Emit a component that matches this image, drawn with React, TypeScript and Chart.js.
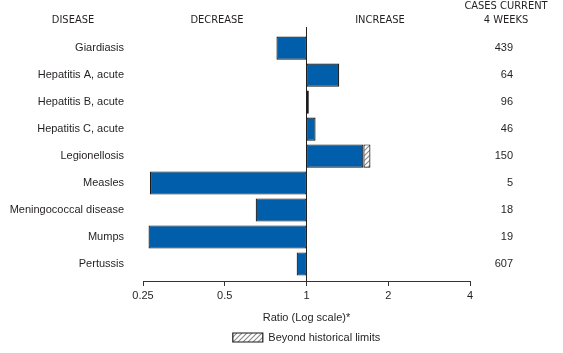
import React, { useEffect, useRef } from "react";
import { Chart, registerables } from "chart.js";

Chart.register(...registerables);

const diseases = [
  "Giardiasis",
  "Hepatitis A, acute",
  "Hepatitis B, acute",
  "Hepatitis C, acute",
  "Legionellosis",
  "Measles",
  "Meningococcal disease",
  "Mumps",
  "Pertussis",
];
const ratios = [0.775, 1.32, 1.02, 1.08, 1.62, 0.265, 0.65, 0.262, 0.92];
const beyondLimits: (number | null)[] = [null, null, null, null, 1.72, null, null, null, null];
const cases = [439, 64, 96, 46, 150, 5, 18, 19, 607];
const xTicks = [0.25, 0.5, 1, 2, 4];

const FONT = "'Liberation Sans', Arial, sans-serif";
const NARROW = "'Liberation Sans Narrow', 'DejaVu Sans Condensed', sans-serif";
const TEXT = "#231f20";
const BLUE = "#005eaa";
const Y_MIN = -0.78;
const Y_MAX = 8.63;

function makeHatch(): CanvasPattern | string {
  const c = document.createElement("canvas");
  c.width = 5;
  c.height = 5;
  const g = c.getContext("2d");
  if (!g) return "#ccc";
  g.fillStyle = "#ffffff";
  g.fillRect(0, 0, 5, 5);
  g.strokeStyle = "#8a8a8a";
  g.lineWidth = 1.1;
  g.beginPath();
  g.moveTo(0, 5);
  g.lineTo(5, 0);
  g.moveTo(-1, 1);
  g.lineTo(1, -1);
  g.moveTo(4, 6);
  g.lineTo(6, 4);
  g.stroke();
  const p = g.createPattern(c, "repeat");
  return p || "#ccc";
}

const headerPlugin = {
  id: "headers",
  afterDraw(chart: any) {
    const ctx = chart.ctx;
    const yScale = chart.scales.y;
    ctx.save();
    ctx.fillStyle = TEXT;
    ctx.font = `11px ${NARROW}`;
    ctx.textAlign = "center";
    ctx.textBaseline = "middle";
    ctx.fillText("DISEASE", 73, 20);
    ctx.fillText("DECREASE", 217, 20);
    ctx.fillText("INCREASE", 380, 20);
    ctx.fillText("CASES CURRENT", 506, 6);
    ctx.fillText("4 WEEKS", 506, 20);
    ctx.font = `11px ${FONT}`;
    ctx.textAlign = "right";
    cases.forEach((c, i) => {
      ctx.fillText(String(c), 513, yScale.getPixelForValue(i));
    });
    ctx.restore();
  },
};

export default function App() {
  const ref = useRef<HTMLCanvasElement | null>(null);

  useEffect(() => {
    document.body.style.margin = "0";
    const canvas = ref.current;
    if (!canvas) return;
    const hatch = makeHatch();

    const mainData = ratios.map((v, i) => ({ x: [1, v], y: i }));
    const beyondData = beyondLimits
      .map((v, i) => (v == null ? null : { x: [ratios[i], v], y: i }))
      .filter((d) => d !== null);

    const chart = new Chart(canvas, {
      type: "bar",
      data: {
        datasets: [
          {
            label: "Ratio",
            data: mainData as any,
            backgroundColor: BLUE,
            borderColor: "#1a1a1a",
            borderWidth: 1.2,
            borderSkipped: false,
            grouped: false,
            barPercentage: 1,
            categoryPercentage: 0.86,
            yAxisID: "y",
          } as any,
          {
            label: "Beyond historical limits",
            data: beyondData as any,
            backgroundColor: hatch as any,
            borderColor: "#1a1a1a",
            borderWidth: 1.2,
            borderSkipped: false,
            grouped: false,
            barPercentage: 1,
            categoryPercentage: 0.86,
            yAxisID: "y",
          } as any,
        ],
      },
      options: {
        indexAxis: "y",
        responsive: false,
        animation: false,
        layout: { padding: { top: 27, left: 0, right: 93, bottom: 0 } },
        plugins: {
          legend: {
            display: true,
            position: "bottom",
            fullSize: false,
            labels: {
              filter: (item: any) => item.datasetIndex === 1,
              boxWidth: 30,
              boxHeight: 9,
              padding: 4,
              color: TEXT,
              font: { family: FONT, size: 11 },
            },
          },
          tooltip: { enabled: false },
        },
        scales: {
          x: {
            type: "logarithmic",
            min: 0.25,
            max: 4,
            position: "bottom",
            offset: false,
            afterBuildTicks: (scale: any) => {
              scale.ticks = xTicks.map((v) => ({ value: v }));
            },
            afterFit: (scale: any) => {
              scale.height = 47;
            },
            ticks: {
              autoSkip: false,
              maxRotation: 0,
              padding: 3,
              color: TEXT,
              font: { family: FONT, size: 11 },
              callback: (v: any) => String(v),
            },
            grid: {
              offset: false,
              drawOnChartArea: true,
              drawTicks: true,
              tickLength: 5,
              tickColor: "#333333",
              lineWidth: 1,
              color: (ctx: any) => (ctx.tick && ctx.tick.value === 1 ? "#222222" : "rgba(0,0,0,0)"),
            },
            border: { display: true, color: "#333333", width: 1 },
            title: {
              display: true,
              text: "Ratio (Log scale)*",
              color: TEXT,
              font: { family: FONT, size: 11 },
              padding: { top: 4, bottom: 3 },
            },
          },
          y: {
            type: "linear",
            min: Y_MIN,
            max: Y_MAX,
            reverse: true,
            offset: false,
            position: "left",
            grid: { display: false, drawTicks: false, offset: false },
            border: { display: false },
            afterBuildTicks: (scale: any) => {
              scale.ticks = diseases.map((_, i) => ({ value: i }));
              scale.min = Y_MIN;
              scale.max = Y_MAX;
            },
            afterFit: (scale: any) => {
              scale.width = 143;
              scale.paddingTop = 0;
              scale.paddingBottom = 0;
            },
            ticks: {
              autoSkip: false,
              padding: 19,
              color: TEXT,
              font: { family: FONT, size: 11 },
              callback: (v: any) => diseases[v as number] ?? "",
            },
          } as any,
        },
      },
      plugins: [headerPlugin],
    });

    return () => chart.destroy();
  }, []);

  return (
    <canvas
      ref={ref}
      width={563}
      height={353}
      style={{ display: "block", width: 563, height: 353 }}
    />
  );
}
